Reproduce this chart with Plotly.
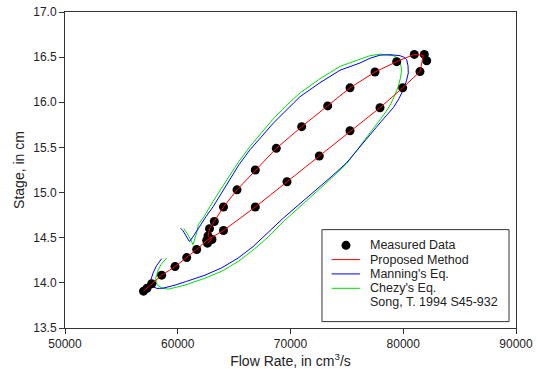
import plotly.graph_objects as go

# Measured data (flow rate cm^3/s, stage cm), in time order
measured_q = [56962, 57273, 57689, 58576, 59756, 60794, 61680, 62567, 64057, 66878,
              69689, 72554, 75277, 77937, 79951, 81485, 82079, 81866, 80980,
              79419, 77494, 75277, 73299, 70993, 68740, 66878, 65255, 64057,
              63241, 62816, 62683, 63037, 62638]
measured_h = [13.908, 13.94, 13.99, 14.085, 14.18, 14.28, 14.37, 14.47, 14.58, 14.84,
              15.12, 15.405, 15.685, 15.94, 16.16, 16.34, 16.46, 16.53, 16.53,
              16.45, 16.335, 16.16, 15.96, 15.73, 15.49, 15.25, 15.03, 14.84,
              14.68, 14.60, 14.52, 14.48, 14.44]

# Proposed method
proposed_q = [56962, 57273, 57689, 58576, 59756, 60794, 61680, 62567, 64057, 66878,
              69689, 72554, 75277, 77937, 79951, 81485, 81777, 80980,
              79419, 77494, 75277, 73299, 70993, 68740, 66878, 65255, 64057,
              63241, 62816, 62683, 63037, 62638]
proposed_h = [13.908, 13.94, 13.99, 14.085, 14.18, 14.28, 14.37, 14.47, 14.58, 14.84,
              15.12, 15.405, 15.685, 15.94, 16.16, 16.34, 16.52, 16.53,
              16.45, 16.335, 16.16, 15.96, 15.73, 15.49, 15.25, 15.03, 14.84,
              14.68, 14.60, 14.52, 14.48, 14.44]

# Manning's equation
manning_q = [58576, 58115, 57805, 57583, 57716, 58159, 58691, 59756, 60793, 62416,
             63924, 65343, 66674, 68004, 69361, 70842, 72322, 73680, 74984, 75897,
             76784, 77582, 78292, 79117, 79622, 80004, 80287, 80447, 80421, 80305,
             80066, 79711, 78824, 77937, 77050, 76163, 74390, 72616, 70842, 69600,
             68474, 67472, 66408, 65432, 64634, 63880, 63153, 62505, 61973, 61441,
             61042, 60731, 60465, 60244]
manning_h = [14.268, 14.190, 14.108, 14.019, 13.964, 13.938, 13.941, 13.975, 14.017, 14.085,
             14.168, 14.274, 14.401, 14.556, 14.717, 14.877, 15.032, 15.182, 15.331, 15.464,
             15.591, 15.719, 15.824, 15.940, 16.040, 16.140, 16.239, 16.325, 16.405, 16.472,
             16.499, 16.516, 16.527, 16.522, 16.488, 16.435, 16.355, 16.217, 16.062, 15.913,
             15.769, 15.625, 15.475, 15.309, 15.143, 14.988, 14.847, 14.733, 14.626, 14.528,
             14.456, 14.523, 14.578, 14.606]

# Chezy's equation
chezy_q = [59020, 58514, 58275, 58044, 58133, 58576, 59161, 60643, 62416, 63924,
           65343, 66674, 68004, 69361, 70842, 72322, 73680, 74984, 75809, 76518,
           77228, 77937, 78469, 78913, 79268, 79560, 79755, 79862, 79711, 79445,
           79117, 77937, 77050, 76163, 74390, 72616, 70842, 69600, 68447, 67472,
           66408, 65343, 64341, 63569, 62860, 62328, 61822, 61707, 61530, 61352,
           61086, 60819, 60554]
chezy_h = [14.276, 14.202, 14.146, 14.054, 13.980, 13.944, 13.930, 13.975, 14.052, 14.130,
           14.235, 14.362, 14.506, 14.678, 14.844, 15.010, 15.165, 15.320, 15.453, 15.575,
           15.691, 15.807, 15.896, 15.985, 16.084, 16.176, 16.272, 16.361, 16.453, 16.494,
           16.516, 16.533, 16.516, 16.477, 16.398, 16.261, 16.103, 15.962, 15.813, 15.669,
           15.512, 15.331, 15.143, 14.988, 14.847, 14.733, 14.645, 14.567, 14.496, 14.423,
           14.496, 14.556, 14.600]

legend_labels = ["Measured Data", "Proposed Method", "Manning's Eq.", "Chezy's Eq.",
                 "Song, T. 1994 S45-932"]

x_ticks = [50000, 60000, 70000, 80000, 90000]
y_ticks = [13.5, 14.0, 14.5, 15.0, 15.5, 16.0, 16.5, 17.0]

FONT = "Liberation Sans, Arial, sans-serif"
RED = "#ff0000"
BLUE = "#0000ff"
GREEN = "#00e000"

fig = go.Figure()
fig.add_trace(go.Scatter(x=chezy_q, y=chezy_h, mode="lines",
                         line=dict(color=GREEN, width=1), showlegend=False))
fig.add_trace(go.Scatter(x=manning_q, y=manning_h, mode="lines",
                         line=dict(color=BLUE, width=1), showlegend=False))
fig.add_trace(go.Scatter(x=measured_q, y=measured_h, mode="markers",
                         marker=dict(color="black", size=9), showlegend=False))
fig.add_trace(go.Scatter(x=proposed_q, y=proposed_h, mode="lines",
                         line=dict(color=RED, width=1), showlegend=False))

axis_common = dict(showline=True, linecolor="#333", linewidth=1, mirror=True,
                   ticks="outside", ticklen=5, tickcolor="#333", showgrid=False,
                   zeroline=False, tickfont=dict(family=FONT, size=12, color="#222"))

fig.update_xaxes(range=[50000, 90000], tickvals=x_ticks, tickformat="d",
                 title=dict(text="Flow Rate, in cm<sup>3</sup>/s",
                            font=dict(family=FONT, size=14, color="#222"), standoff=6),
                 **axis_common)
fig.update_yaxes(range=[13.5, 17.0], tickvals=y_ticks, tickformat=".1f",
                 title=dict(text="Stage, in cm",
                            font=dict(family=FONT, size=14, color="#222"), standoff=5),
                 **axis_common)

# Manual legend box
bx0, bx1, by0, by1 = 0.5698, 0.9845, 0.0202, 0.3113
row_y = [0.2616, 0.2164, 0.1711, 0.1256, 0.0826]
shapes = [dict(type="rect", xref="paper", yref="paper", x0=bx0, x1=bx1, y0=by0, y1=by1,
               line=dict(color="#333", width=1), fillcolor="white", layer="above")]
line_colors = [None, RED, BLUE, GREEN, None]
for yy, col in zip(row_y, line_colors):
    if col:
        shapes.append(dict(type="line", xref="paper", yref="paper", x0=0.5913, x1=0.6541,
                           y0=yy, y1=yy, line=dict(color=col, width=1), layer="above"))
# Dot symbol for measured data
shapes.append(dict(type="circle", xref="paper", yref="paper",
                   x0=0.623 - 4.5 / 451, x1=0.623 + 4.5 / 451,
                   y0=row_y[0] - 4.5 / 316.1, y1=row_y[0] + 4.5 / 316.1,
                   fillcolor="black", line=dict(color="black", width=0), layer="above"))
annotations = [dict(xref="paper", yref="paper", x=0.6725, y=yy, text=t, showarrow=False,
                    xanchor="left", yanchor="middle",
                    font=dict(family=FONT, size=12.5, color="#222"))
               for yy, t in zip(row_y, legend_labels)]

fig.update_layout(width=542, height=369, margin=dict(l=65, r=26, t=12, b=41, autoexpand=False),
                  paper_bgcolor="white", plot_bgcolor="white", showlegend=False,
                  shapes=shapes, annotations=annotations)

fig.write_html("out.html")
